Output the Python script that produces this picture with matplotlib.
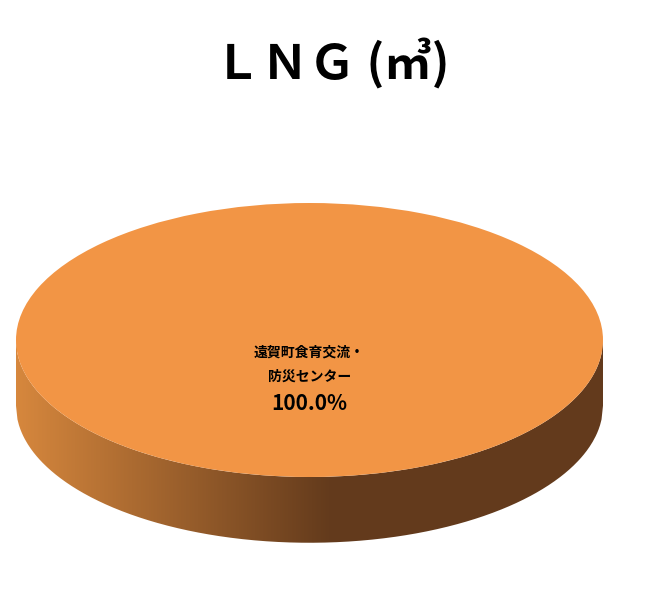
import numpy as np
import matplotlib.pyplot as plt
from matplotlib.path import Path
from matplotlib.patches import PathPatch

plt.rcParams['font.family'] = ['Noto Sans CJK JP', 'DejaVu Sans']

# data
labels = ['遠賀町食育交流・\n防災センター']
values = [100.0]
title = 'ＬＮＧ (㎥)'
top_color = '#F29545'

fig = plt.figure(figsize=(6.46, 6.09), dpi=100)
ax = fig.add_axes([0, 0, 1, 1])

# side wall of the 3d pie (drawn under the top)
depth = 0.48
xs = np.linspace(-1, 1, 400)
lower = -np.sqrt(1 - xs**2)
verts = list(zip(xs, lower)) + list(zip(xs[::-1], lower[::-1] - depth))
clip = PathPatch(Path(verts + [verts[0]]), facecolor='none', edgecolor='none')
ax.add_patch(clip)

c0 = np.array([0.84, 0.53, 0.24])
c1 = np.array([0.39, 0.23, 0.11])
gx = np.linspace(-1, 1, 300)
t = np.clip((gx + 1) / 1.07, 0, 1)
grad = c0[None, :] * (1 - t[:, None]) + c1[None, :] * t[:, None]
img = ax.imshow(grad[None, :, :], extent=(-1, 1, -1 - depth, 0.05), aspect='auto', zorder=1)
img.set_clip_path(clip)

wedges, texts, autotexts = ax.pie(values, labels=labels, colors=[top_color], startangle=90,
                                  labeldistance=0.18, autopct='%1.1f%%', pctdistance=0.467,
                                  wedgeprops=dict(linewidth=0, zorder=3),
                                  textprops=dict(color='black'))
for tx in texts:
    tx.set_fontsize(10)
    tx.set_fontweight('bold')
    tx.set_linespacing(1.9)
    tx.set_ha('center')
    tx.set_va('center')
    tx.set_zorder(5)
for tx in autotexts:
    tx.set_fontsize(15)
    tx.set_fontweight('bold')
    tx.set_zorder(5)

ax.set_aspect('auto')
ax.set_xlim(-309.5 / 293.5, (646 - 309.5) / 293.5)
ax.set_ylim(-269 / 137, (609 - 269) / 137)
ax.axis('off')

fig.text(0.514, 0.895, title, fontsize=34, fontweight='bold', ha='center', va='center')

fig.savefig('out.png', dpi=100)
